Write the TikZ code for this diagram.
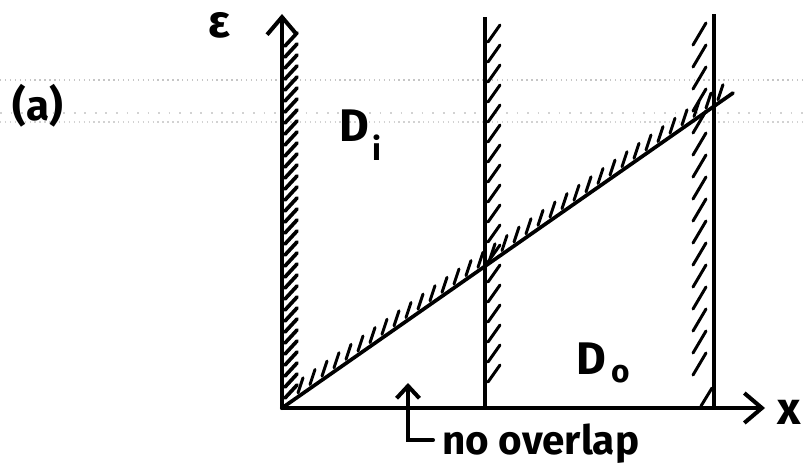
\documentclass[tikz,border=0pt]{standalone}
\usepackage{fontspec}
\setmainfont{Fira Sans}
\usetikzlibrary{arrows.meta}

\begin{document}
\begin{tikzpicture}[
  x=0.02cm, y=-0.02cm,
  axis/.style={line width=2.3pt, line cap=round, -{Straight Barb[length=10pt, width=17pt, line width=2.3pt]}},
  wall/.style={line width=2.1pt},
  hatch/.style={line width=1.7pt, line cap=round},
  paper/.style={gray!45, line width=0.8pt, dotted},
  lbl/.style={font=\bfseries\fontsize{26}{26}\selectfont, inner sep=0pt},
  sub/.style={font=\bfseries\fontsize{18}{18}\selectfont, inner sep=0pt}
]
\useasboundingbox (0,0) rectangle (803,473);

% ruled lines of the paper
\draw[paper] (0,80) -- (803,80);
\draw[gray!35, line width=0.6pt, dash pattern=on 1pt off 5pt] (0,113) -- (803,113);
\draw[paper, gray!35] (0,122) -- (803,122);

% axes and walls
\coordinate (O) at (282,408);
\coordinate (ytip) at (282,14);
\coordinate (xtip) at (765,408);
\coordinate (w1b) at (485,408);
\coordinate (w1t) at (485,17);
\coordinate (w2b) at (714,408);
\coordinate (w2t) at (714,14);
\coordinate (dend) at (733,93);

\draw[axis] (O) -- (ytip);
\draw[axis] (O) -- (xtip);
\draw[wall] (w1b) -- (w1t);
\draw[wall] (w2b) -- (w2t);
\draw[wall, line cap=round] (O) -- (dend);

% hatching
\foreach \y in {46,57,...,398}
  \draw[hatch, line width=2.1pt] (285,\y) -- ++(12,-13);
\foreach \x in {298,310,...,724}
  \draw[hatch] (\x,{408-0.698*(\x-282)-4}) -- ++(5,-15);
\foreach \y in {42,62,...,400}
  \draw[hatch] (488,\y) -- ++(12,-17);
\foreach \y in {45,67,...,390}
  \draw[hatch] (693,\y) -- ++(13,-22);
\draw[hatch] (701,406) -- ++(11,-18);

% labels
\node[lbl] (eps) at (219,25) {ε};
\node[lbl, font=\bfseries\fontsize{24}{24}\selectfont] (part) at (38,106) {(a)};
\node[lbl] (Di) at (354,126) {D};
\node[sub] (Dii) at (377,148) {i};
\node[lbl] (Do) at (591,359) {D};
\node[sub] (Doo) at (621,374) {o};
\node[lbl] (xlab) at (789,412) {x};

% no overlap
\node[lbl, font=\bfseries\fontsize{23}{23}\selectfont, anchor=base west] (ovl) at (442,454) {no overlap};
\coordinate (nb) at (408,440);
\coordinate (nt) at (408,383);
\coordinate (nr) at (433,440);
\draw[axis, -{Straight Barb[length=7pt, width=13pt, line width=2.3pt]}] (nr) -- (nb) -- (nt);
\end{tikzpicture}
\end{document}
